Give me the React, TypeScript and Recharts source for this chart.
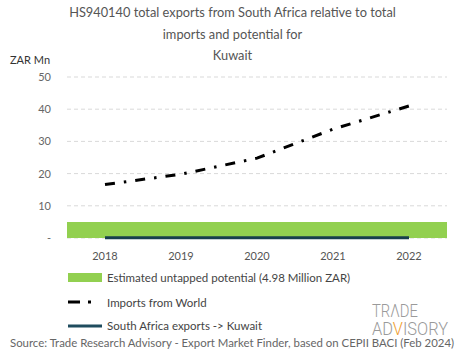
import { Bar, CartesianGrid, ComposedChart, Line, XAxis, YAxis } from 'recharts';

const years = ['2018', '2019', '2020', '2021', '2022'];
const importsFromWorld = [16.6, 19.8, 24.8, 33.8, 41.0];
const saExports = [0.05, 0.05, 0.05, 0.05, 0.05];
const untappedPotential = [4.98, 4.98, 4.98, 4.98, 4.98];
const yTicks = [0, 10, 20, 30, 40, 50];

const titleLines = [
  'HS940140 total exports from South Africa relative to total',
  'imports and potential for',
  'Kuwait',
];

const FONT = 'Lato, "Open Sans", sans-serif';
const GREEN = '#92D050';
const DARK = '#173f4d';

const chartData = years.map((year, i) => ({
  year,
  potential: untappedPotential[i],
  imports: importsFromWorld[i],
  exports: saExports[i],
}));

const LegendBox = () => (
  <div style={{ position: 'absolute', left: 68, top: 269, width: 300, height: 66, fontFamily: FONT, fontSize: 11.5, color: '#444' }}>
    <div style={{ position: 'absolute', left: 0, top: 0, display: 'flex', alignItems: 'center', height: 16 }}>
      <div style={{ width: 34, height: 9, background: GREEN, marginRight: 5 }} />
      <span>Estimated untapped potential (4.98 Million ZAR)</span>
    </div>
    <div style={{ position: 'absolute', left: 0, top: 25, display: 'flex', alignItems: 'center', height: 16 }}>
      <svg width={34} height={6} style={{ marginRight: 5 }}>
        <line x1={0} y1={3} x2={34} y2={3} stroke="#000" strokeWidth={3} strokeDasharray="12 8 3 20" />
      </svg>
      <span>Imports from World</span>
    </div>
    <div style={{ position: 'absolute', left: 0, top: 48, display: 'flex', alignItems: 'center', height: 16 }}>
      <svg width={34} height={6} style={{ marginRight: 5 }}>
        <line x1={0} y1={4} x2={34} y2={4} stroke="#1f4c5e" strokeWidth={3} />
      </svg>
      <span>South Africa exports -&gt; Kuwait</span>
    </div>
  </div>
);

export default function App() {
  return (
    <div style={{ position: 'absolute', left: 0, top: 0, width: 465, height: 359, background: '#fff', fontFamily: FONT }}>
      {titleLines.map((t, i) => (
        <div
          key={i}
          style={{
            position: 'absolute',
            left: 0,
            width: 465,
            top: 4 + i * 21.5,
            textAlign: 'center',
            fontSize: 12.8,
            color: '#555',
          }}
        >
          {t}
        </div>
      ))}
      <div style={{ position: 'absolute', left: 10, top: 53, fontSize: 11, color: '#333' }}>ZAR Mn</div>

      <ComposedChart
        width={465}
        height={359}
        data={chartData}
        barCategoryGap={0}
        margin={{ top: 77, right: 18, left: 27, bottom: 91 }}
      >
        <CartesianGrid vertical={false} stroke="#d9d9d9" strokeDasharray="4 3" />
        <XAxis
          dataKey="year"
          axisLine={false}
          tickLine={false}
          tickMargin={8}
          tick={{ fill: '#555', fontSize: 11, fontFamily: FONT }}
        />
        <YAxis
          width={40}
          domain={[0, 50]}
          ticks={yTicks}
          axisLine={false}
          tickLine={false}
          tickMargin={10}
          tickFormatter={(v: number) => (v === 0 ? '-' : String(v))}
          tick={{ fill: '#666', fontSize: 11, fontFamily: FONT }}
        />
        <Bar dataKey="potential" fill={GREEN} isAnimationActive={false} />
        <Line
          dataKey="exports"
          stroke={DARK}
          strokeWidth={3}
          dot={false}
          isAnimationActive={false}
        />
        <Line
          dataKey="imports"
          stroke="#000"
          strokeWidth={3}
          strokeDasharray="10 9 2.5 9"
          dot={false}
          isAnimationActive={false}
        />
      </ComposedChart>

      <LegendBox />

      <svg style={{ position: 'absolute', left: 360, top: 298 }} width={100} height={44}>
        <text x={12} y={19} fontFamily="Roboto, sans-serif" fontWeight={300} fontSize={19} fill="#9a9a9a" textLength={46} lengthAdjust="spacingAndGlyphs">
          TRΛDE
        </text>
        <text x={12} y={37} fontFamily="Roboto, sans-serif" fontWeight={300} fontSize={19} fill="#9a9a9a" textLength={76} lengthAdjust="spacingAndGlyphs">
          AD<tspan fill="#f0a030">V</tspan>ISORY
        </text>
      </svg>

      <div style={{ position: 'absolute', left: 10, top: 336, fontSize: 11.4, color: '#666', whiteSpace: 'nowrap' }}>
        Source: Trade Research Advisory - Export Market Finder, based on CEPII BACI (Feb 2024)
      </div>
    </div>
  );
}
